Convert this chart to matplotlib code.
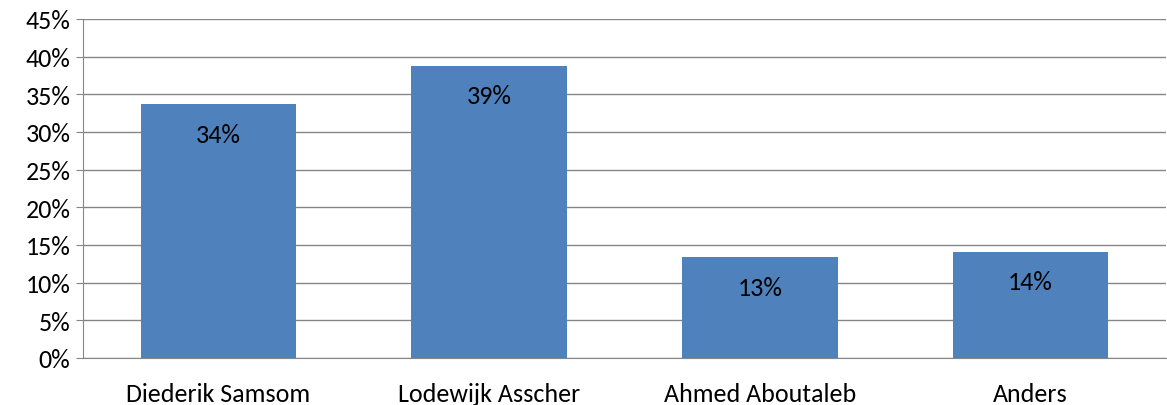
import matplotlib.pyplot as plt
from matplotlib.ticker import MultipleLocator, FuncFormatter

names = ['Diederik Samsom', 'Lodewijk Asscher', 'Ahmed Aboutaleb', 'Anders']
shares = [33.7, 38.8, 13.4, 14.1]
labels = ['34%', '39%', '13%', '14%']

plt.rcParams['font.family'] = ['Carlito', 'Liberation Sans', 'DejaVu Sans']

fig = plt.figure(figsize=(11.67, 4.06), dpi=100)
ax = fig.add_axes([0.0711, 0.1158, 0.928, 0.835])

xs = range(len(names))
bars = ax.bar(xs, shares, width=0.575, color='#4F81BD', zorder=3)

for x, v, lab in zip(xs, shares, labels):
    ax.annotate(lab, (x, v), xytext=(0, -30), textcoords='offset pixels',
                ha='center', va='center', fontsize=18.7, color='black', zorder=4)

ax.set_xlim(-0.5, 3.5)
ax.set_ylim(0, 45)
ax.yaxis.set_major_locator(MultipleLocator(5))
ax.yaxis.set_major_formatter(FuncFormatter(lambda v, p: f'{v:.0f}%'))
ax.set_xticks(list(xs))
ax.set_xticklabels(names)
ax.tick_params(axis='x', length=0, pad=17, labelsize=18.7)
ax.tick_params(axis='y', length=5, color='#868686', labelsize=18.7, pad=4)

ax.grid(axis='y', color='#868686', linewidth=1, zorder=0)
for s in ['top', 'right']:
    ax.spines[s].set_visible(False)
ax.spines['left'].set_color('#868686')
ax.spines['bottom'].set_color('#868686')

fig.savefig('out.png', dpi=100)
